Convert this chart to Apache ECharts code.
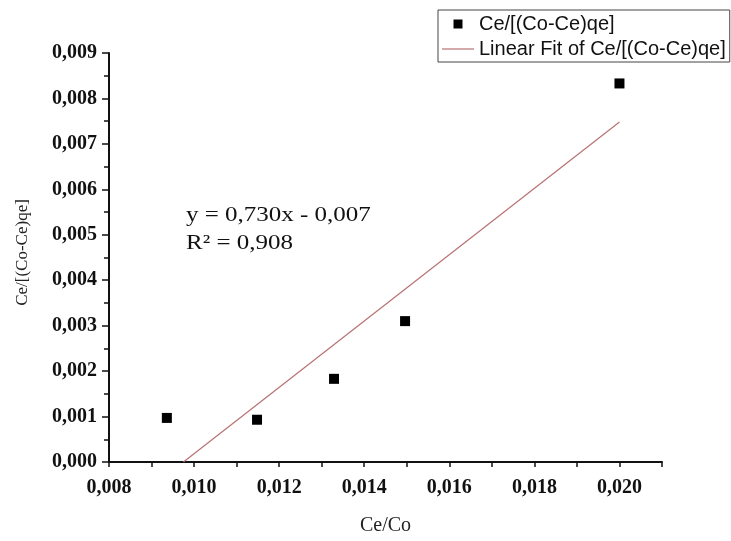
<!DOCTYPE html>
<html>
<head>
<meta charset="utf-8">
<script src="https://cdn.jsdelivr.net/npm/echarts@6/dist/echarts.min.js"></script>
<style>
  html, body { margin: 0; padding: 0; background: #fff; }
  #chart { width: 731px; height: 541px; }
</style>
</head>
<body>
<div id="chart"></div>
<script>
// measured points, Ce/Co vs Ce/[(Co-Ce)qe]
const ceCo = [0.00936, 0.01148, 0.01329, 0.01496, 0.0200]
const ceQe = [0.00097, 0.00093, 0.00183, 0.00310, 0.00833]
// linear fit y = 0,730x - 0,007, drawn from where it crosses zero
const fitX = [0.00975, 0.0200]
const fitY = [0.0000, 0.00748]
const fitLabel = ['y = 0,730x - 0,007', 'R² = 0,908']

const seriesName = 'Ce/[(Co-Ce)qe]'
const fitName = 'Linear Fit of Ce/[(Co-Ce)qe]'

const fmt = v => v.toFixed(3).replace('.', ',')
const serif = '"Liberation Serif", "Times New Roman", serif'
const fitColor = '#b87272'

const chart = echarts.init(document.getElementById('chart'))
const option = {
  backgroundColor: '#fff',
  animation: false,
  grid: { left: 109, right: 69, top: 53, bottom: 79 },
  legend: {
    orient: 'vertical',
    left: 438,
    top: 10,
    padding: [3, 4, 2, 4],
    itemGap: 3,
    itemWidth: 32,
    itemHeight: 9,
    symbolKeepAspect: true,
    borderColor: '#444',
    borderWidth: 1,
    textStyle: { fontFamily: '"Liberation Sans", Arial, sans-serif', fontSize: 20, lineHeight: 22, color: '#111' },
    data: [
      { name: seriesName, icon: 'path://M0,0L10,0L10,10L0,10Z', itemStyle: { color: '#000' } },
      { name: fitName, icon: 'path://M0,0L32,0L32,1.2L0,1.2Z', itemStyle: { color: fitColor } }
    ]
  },
  xAxis: {
    type: 'value',
    min: 0.008,
    max: 0.021,
    interval: 0.001,
    name: 'Ce/Co',
    nameLocation: 'middle',
    nameGap: 54,
    nameTextStyle: { fontFamily: serif, fontSize: 20, color: '#222' },
    axisLine: { lineStyle: { color: '#111', width: 2 } },
    axisTick: { show: true, inside: false, length: 5, lineStyle: { color: '#111', width: 1.5 } },
    axisLabel: {
      interval: 0,
      margin: 16,
      fontFamily: serif,
      fontWeight: 'bold',
      fontSize: 20,
      color: '#111',
      formatter: v => (Math.round(v * 1000) % 2 === 0 ? fmt(v) : '')
    },
    splitLine: { show: false }
  },
  yAxis: {
    type: 'value',
    min: 0,
    max: 0.009,
    interval: 0.001,
    name: 'Ce/[(Co-Ce)qe]',
    nameLocation: 'middle',
    nameGap: 78,
    nameTextStyle: { fontFamily: serif, fontSize: 17, color: '#222', padding: [0, 0, 0, 10] },
    axisLine: { show: true, lineStyle: { color: '#111', width: 2 } },
    axisTick: { show: true, inside: false, length: 7, lineStyle: { color: '#111', width: 1.5 } },
    minorTick: { show: true, splitNumber: 2, length: 5, lineStyle: { color: '#111', width: 1.5 } },
    axisLabel: {
      margin: 12,
      fontFamily: serif,
      fontWeight: 'bold',
      fontSize: 20,
      color: '#111',
      formatter: fmt
    },
    splitLine: { show: false }
  },
  graphic: [
    {
      type: 'text',
      left: 186,
      top: 201,
      scaleX: 1.19,
      style: {
        text: fitLabel.join('\n'),
        fontFamily: serif,
        fontSize: 21,
        lineHeight: 28,
        fill: '#111'
      }
    }
  ],
  series: [
    {
      name: seriesName,
      type: 'scatter',
      symbol: 'rect',
      symbolSize: 10,
      itemStyle: { color: '#000', opacity: 1 },
      data: ceCo.map((x, i) => [x, ceQe[i]])
    },
    {
      name: fitName,
      type: 'line',
      showSymbol: false,
      symbol: 'none',
      lineStyle: { color: fitColor, width: 1.2 },
      itemStyle: { color: fitColor },
      data: fitX.map((x, i) => [x, fitY[i]])
    }
  ]
}
option && chart.setOption(option, true)
</script>
</body>
</html>
